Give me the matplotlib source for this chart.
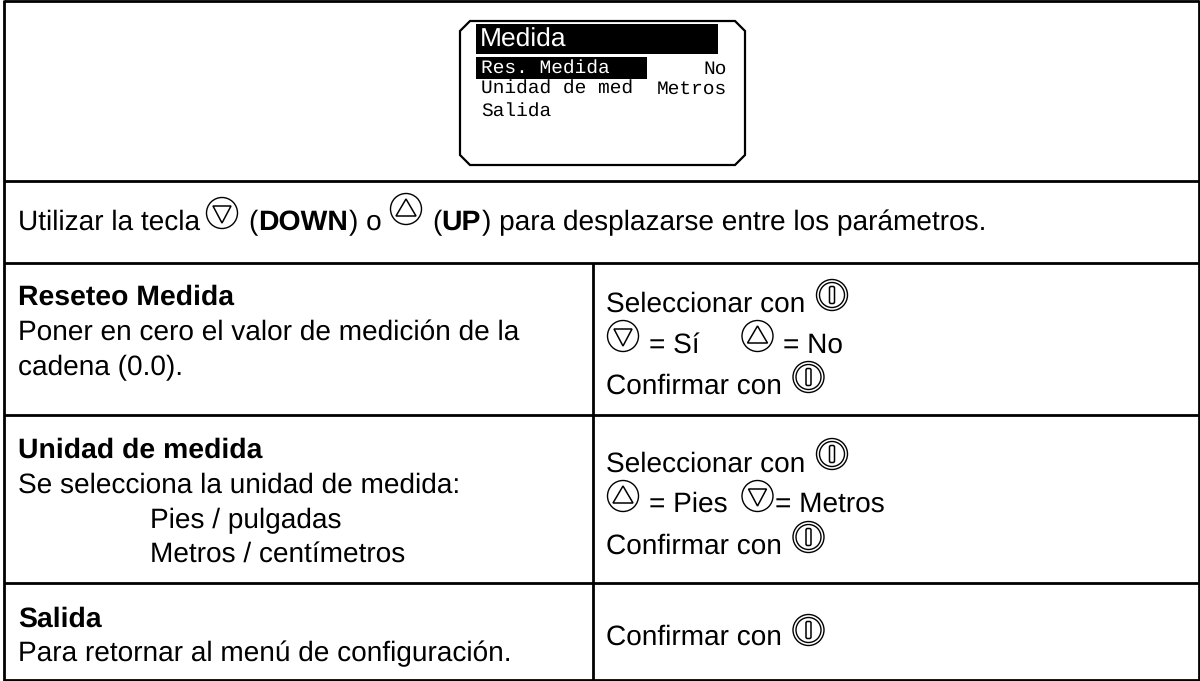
import matplotlib
matplotlib.use("Agg")
import matplotlib.pyplot as plt
from matplotlib.patches import Circle, Polygon, FancyBboxPatch, Rectangle

# TEXTOS
PANTALLA_TITULO = "Medida"
PANTALLA_FILAS = ["Res. Medida", "Unidad de med", "Salida"]
PANTALLA_VALORES = ["No", "Metros"]
INTRO = ["Utilizar la tecla", "(", "DOWN", ") o", "(", "UP",
         ") para desplazarse entre los parámetros."]
TITULOS = ["Reseteo Medida", "Unidad de medida", "Salida"]
RESETEO = ["Poner en cero el valor de medición de la", "cadena (0.0)."]
UNIDAD = ["Se selecciona la unidad de medida:", "Pies / pulgadas", "Metros / centímetros"]
SALIDA = ["Para retornar al menú de configuración."]
ACCIONES = ["Seleccionar con", "Confirmar con", "= Sí", "= No", "= Pies", "= Metros"]

plt.rcParams["font.family"] = ["Liberation Sans", "DejaVu Sans"]
plt.rcParams["text.hinting"] = "no_hinting"
TAM = 20.2
NEGRO = "black"

fig = plt.figure(figsize=(12, 6.81), dpi=100)
ax = fig.add_axes([0, 0, 1, 1])
ax.set_xlim(0, 1200)
ax.set_ylim(681, 0)
ax.axis("off")


def texto(x, y, s, bold=False, **kw):
    ax.text(x, y, s, fontsize=20.4 if bold else TAM, fontweight="bold" if bold else "normal",
            va="baseline", color=NEGRO, **kw)


def tecla_abajo(x, y):
    ax.add_patch(Circle((x, y), 15.5, fill=False, ec=NEGRO, lw=1.0))
    ax.add_patch(Polygon([(x - 9, y - 7), (x + 9, y - 7), (x, y + 10)], fill=False, ec=NEGRO, lw=1.1))


def tecla_arriba(x, y):
    ax.add_patch(Circle((x, y), 15.5, fill=False, ec=NEGRO, lw=1.0))
    ax.add_patch(Polygon([(x - 10, y + 7), (x + 10, y + 7), (x, y - 10)], fill=False, ec=NEGRO, lw=1.1))


def tecla_power(x, y):
    ax.add_patch(Circle((x, y), 15.5, fill=False, ec=NEGRO, lw=1.0))
    ax.add_patch(Circle((x, y), 12.5, fill=False, ec=NEGRO, lw=1.0))
    ax.add_patch(FancyBboxPatch((x - 2.5, y - 8.5), 5, 17, boxstyle="round,pad=0,rounding_size=1.5",
                                fill=False, ec=NEGRO, lw=1.1))


# TABLA
ax.plot([4, 4], [0, 681], color=NEGRO, lw=2, solid_capstyle="butt")
ax.plot([1199, 1199], [0, 681], color=NEGRO, lw=2, solid_capstyle="butt")
ax.plot([593, 593], [263, 681], color=NEGRO, lw=2, solid_capstyle="butt")
for y in [1, 181, 263, 415, 583, 680]:
    ax.plot([4, 1199], [y, y], color=NEGRO, lw=2, solid_capstyle="butt")

# PANTALLA
marco = [(470, 21), (735, 21), (745, 31), (745, 155), (735, 165), (470, 165), (460, 155), (460, 31)]
ax.add_patch(Polygon(marco, fill=False, ec=NEGRO, lw=1.6))
ax.add_patch(Rectangle((476, 24), 242, 30, fc=NEGRO, ec="none"))
ax.add_patch(Rectangle((476, 57), 171, 22, fc=NEGRO, ec="none"))
ax.text(480, 47, PANTALLA_TITULO, color="white", fontsize=19, va="baseline")
for y, s, c in zip([74, 94, 117], PANTALLA_FILAS, ["white", NEGRO, NEGRO]):
    ax.text(481, y, s, color=c, fontsize=14, family="Liberation Mono", va="baseline")
for y, s in zip([74, 94], PANTALLA_VALORES):
    ax.text(727, y, s, color=NEGRO, fontsize=14, family="Liberation Mono", va="baseline", ha="right")

# FILA DE INTRODUCCION
texto(18, 230, INTRO[0])
tecla_abajo(222, 213)
texto(248, 230, INTRO[1])
texto(258, 230, INTRO[2], bold=True)
texto(349, 230, INTRO[3])
tecla_arriba(406, 209)
texto(432, 230, INTRO[4])
texto(441, 230, INTRO[5], bold=True)
texto(482, 230, INTRO[6])

# COLUMNA IZQUIERDA
texto(18, 305, TITULOS[0], bold=True)
texto(18, 340, RESETEO[0])
texto(18, 375, RESETEO[1])
texto(18, 458, TITULOS[1], bold=True)
texto(18, 493, UNIDAD[0])
texto(150, 528, UNIDAD[1])
texto(150, 562, UNIDAD[2])
texto(18, 627, TITULOS[2], bold=True)
texto(18, 661, SALIDA[0])

# COLUMNA DERECHA
texto(606, 312, ACCIONES[0])
tecla_power(832, 295)
tecla_abajo(623, 336)
texto(649, 353, ACCIONES[2])
tecla_arriba(757.5, 336)
texto(783, 353, ACCIONES[3])
texto(606, 394, ACCIONES[1])
tecla_power(808.5, 377)

texto(606, 472, ACCIONES[0])
tecla_power(832, 454)
tecla_arriba(623, 496)
texto(649, 512, ACCIONES[4])
tecla_abajo(757.5, 496)
texto(775, 512, ACCIONES[5])
texto(606, 554, ACCIONES[1])
tecla_power(808.5, 537)

texto(606, 645, ACCIONES[1])
tecla_power(808.5, 630)

fig.savefig("out.png", dpi=100)
